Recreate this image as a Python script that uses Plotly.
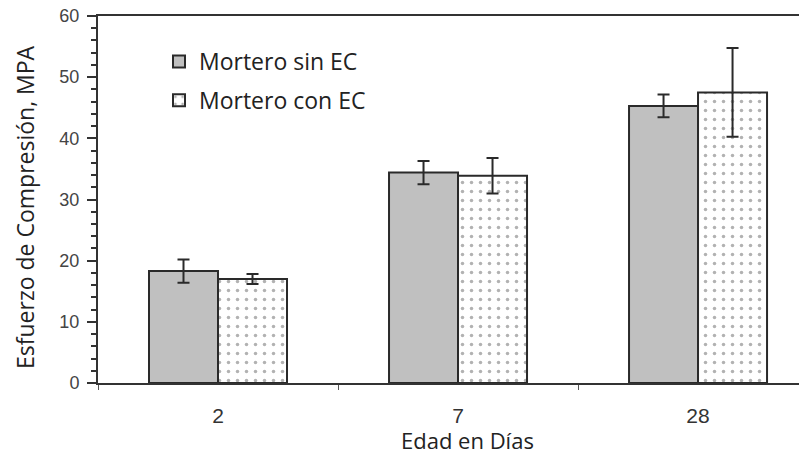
import plotly.graph_objects as go

categories = ["2", "7", "28"]
sin_ec = [18.3, 34.4, 45.3]
sin_ec_err = [1.9, 1.9, 1.85]
con_ec = [17.0, 33.9, 47.5]
con_ec_err = [0.8, 2.9, 7.25]
y_ticks = [0, 10, 20, 30, 40, 50, 60]

# page body has an 8px margin; figure is sized/offset to compensate
W, H = 799, 445
L, T, B = 90, 8, 70
PW = W - L
PH = H - T - B

def px_x(page_x):
    return (page_x - 8 - L) / PW

def px_y(page_y):
    return (H - B - (page_y - 8)) / PH

fig = go.Figure()
fig.add_trace(go.Bar(
    x=categories, y=sin_ec, name="Mortero sin EC",
    marker=dict(color="#c0c0c0", line=dict(color="#2a2a2a", width=2)),
    error_y=dict(type="data", array=sin_ec_err, color="#2a2a2a", thickness=2, width=6),
    legendgroup="a",
))
fig.add_trace(go.Bar(
    x=categories, y=con_ec, name="Mortero con EC",
    marker=dict(color="white", line=dict(color="#2a2a2a", width=2),
                pattern=dict(shape=".", fgcolor="#666666", bgcolor="white", size=9, solidity=0.12)),
    error_y=dict(type="data", array=con_ec_err, color="#2a2a2a", thickness=2, width=6),
    legendgroup="b",
))

fig.update_layout(
    width=W, height=H,
    margin=dict(l=L, r=0, t=T, b=B, autoexpand=False),
    plot_bgcolor="white", paper_bgcolor="white",
    barmode="group", bargap=0.425, bargroupgap=0,
    showlegend=True,
    legend=dict(x=px_x(159), y=px_y(40), xanchor="left", yanchor="top",
                font=dict(family="Open Sans", size=23, color="#222"),
                traceorder="grouped", tracegroupgap=6, bgcolor="rgba(0,0,0,0)"),
    font=dict(family="Liberation Sans", color="#333"),
)
fig.update_xaxes(
    range=[-0.5, 2.454], showline=True, linecolor="#333", linewidth=2, mirror=True,
    ticks="outside", tickson="boundaries", ticklen=5, tickcolor="#555",
    tickfont=dict(family="Liberation Sans", size=21, color="#333"),
    ticklabelstandoff=13,
    showgrid=False, zeroline=False, automargin=False,
)
fig.update_yaxes(
    range=[0, 60], tickvals=y_ticks, showline=True, linecolor="#333", linewidth=2,
    ticks="outside", ticklen=9, tickcolor="#333", tickwidth=1.5,
    minor=dict(dtick=2, ticks="outside", ticklen=5, tickcolor="#333", showgrid=False),
    tickfont=dict(family="Liberation Sans", size=18, color="#444"),
    ticklabelstandoff=4, ticklabeloverflow="allow",
    showgrid=False, zeroline=False, automargin=False,
)
fig.add_annotation(
    text="Edad en Días", xref="paper", yref="paper",
    x=px_x(467), y=px_y(440), xanchor="center", yanchor="middle",
    showarrow=False, font=dict(family="Open Sans", size=22, color="#222"),
)
fig.add_annotation(
    text="Esfuerzo de Compresión, MPA", xref="paper", yref="paper",
    x=px_x(25), y=px_y(207), xanchor="center", yanchor="middle", textangle=-90,
    showarrow=False, font=dict(family="Open Sans", size=23, color="#222"),
)
fig.write_html("out.html")
